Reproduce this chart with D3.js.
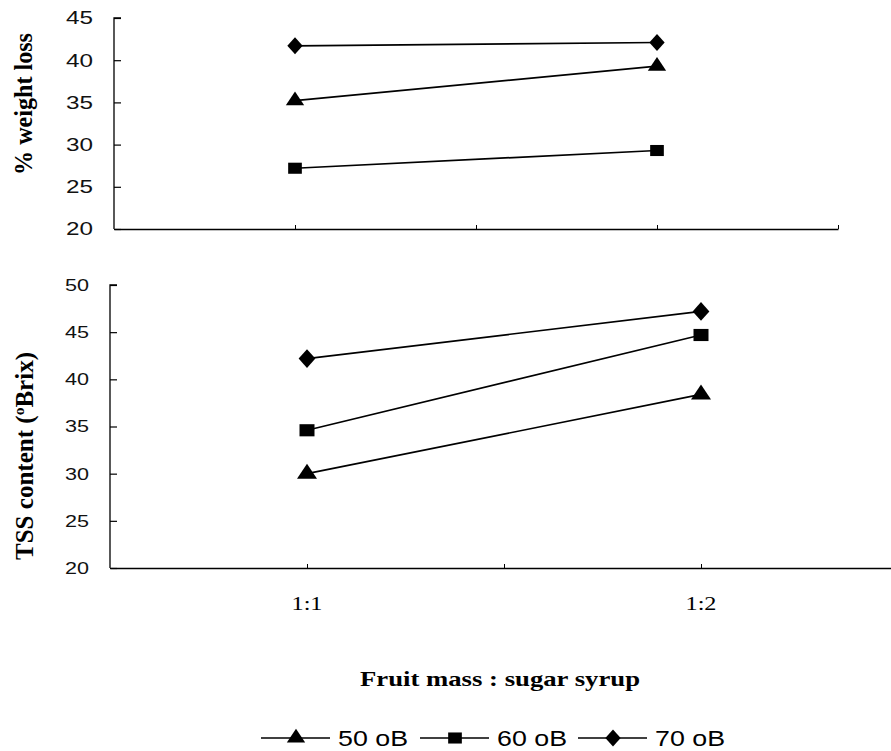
<!DOCTYPE html>
<html>
<head>
<meta charset="utf-8">
<script src="https://cdn.jsdelivr.net/npm/d3@7"></script>
<style>
  body { margin: 0; background: #fff; }
  .tick-label { font-family: "Liberation Sans", Arial, sans-serif; fill: #111; }
  .cat-label { font-family: "Liberation Serif", "Times New Roman", serif; font-size: 19px; }
  .title { font-family: "Liberation Serif", "Times New Roman", serif; font-weight: bold; }
  .legend-text { font-family: "Liberation Sans", Arial, sans-serif; font-size: 22px; }
</style>
</head>
<body>
<svg id="chart" width="891" height="751"></svg>
<script>
// categories sit on every other slot of the x axis
const categories = ['1:1', '1:2'];
const categorySlots = [1, 3];
const seriesNames = ['50 oB', '60 oB', '70 oB'];
const seriesSymbols = ['triangle', 'square', 'diamond'];

const weightLoss50 = [35.2, 39.3];
const weightLoss60 = [27.2, 29.3];
const weightLoss70 = [41.7, 42.1];

const tss50 = [30.0, 38.4];
const tss60 = [34.6, 44.7];
const tss70 = [42.2, 47.2];

const weightTicks = [20, 25, 30, 35, 40, 45];
const tssTicks = [20, 25, 30, 35, 40, 45, 50];

const svg = d3.select('#chart');

const symbolFor = {
  triangle: d3.symbolTriangle,
  square: d3.symbolSquare,
  diamond: d3.symbolDiamond,
};

function drawSymbol(sel, type, big) {
  const k = big ? 1.2 : 1;
  const sizes = { triangle: 120, square: 170, diamond: 130 };
  const path = d3.symbol().type(symbolFor[type]).size(sizes[type] * k)();
  const squash = { triangle: 'scale(1.1, 0.95)', square: 'scale(1.05, 0.85)', diamond: 'scale(1.25, 0.8)' };
  sel.append('path')
    .attr('d', path)
    .attr('fill', '#000')
    .attr('transform', squash[type]);
}

function drawPanel(opts) {
  const { left, right, top, bottom, ticks, series, labelSize, labelWidth, big } = opts;

  const x = d3.scaleLinear().domain([0, 4]).range([left, right]);
  const y = d3.scaleLinear().domain([d3.min(ticks), d3.max(ticks)]).range([bottom, top]);

  // y axis (ticks point inward)
  const yAxis = svg.append('g')
    .attr('transform', `translate(${left},0)`)
    .call(d3.axisRight(y).tickValues(ticks).tickSize(7).tickFormat(''));
  yAxis.select('.domain').attr('stroke', '#000').attr('stroke-width', 1.3).attr('d', `M7,${top}H0V${bottom}`);
  yAxis.selectAll('.tick line').attr('stroke', '#000').attr('stroke-width', 1.2);

  svg.append('g')
    .selectAll('text')
    .data(ticks)
    .enter().append('text')
      .attr('class', 'tick-label')
      .attr('font-size', labelSize)
      .attr('x', left - 21)
      .attr('y', d => y(d) + labelSize * 0.36)
      .attr('text-anchor', 'end')
      .attr('textLength', labelWidth)
      .attr('lengthAdjust', 'spacingAndGlyphs')
      .text(d => d);

  // x axis
  const xAxis = svg.append('g')
    .attr('transform', `translate(0,${bottom})`)
    .call(d3.axisTop(x).tickValues([1, 2, 3, 4]).tickSize(4).tickFormat('').tickSizeOuter(0));
  xAxis.select('.domain').attr('stroke', '#000').attr('stroke-width', 1.5);
  xAxis.selectAll('.tick line').attr('stroke', '#000').attr('stroke-width', 1);

  // lines + markers
  series.forEach((values, i) => {
    const pts = values.map((v, j) => [x(categorySlots[j]), y(v)]);
    svg.append('path')
      .attr('d', d3.line()(pts))
      .attr('fill', 'none')
      .attr('stroke', '#000')
      .attr('stroke-width', 1.7);
    pts.forEach(p => {
      const g = svg.append('g').attr('transform', `translate(${p[0]},${p[1]})`);
      drawSymbol(g, seriesSymbols[i], big);
    });
  });

  return x;
}

drawPanel({
  left: 114, right: 838, top: 18, bottom: 229,
  ticks: weightTicks,
  series: [weightLoss50, weightLoss60, weightLoss70],
  labelSize: 18, labelWidth: 27,
});

const xBottom = drawPanel({
  left: 110, right: 898, top: 285, bottom: 568,
  ticks: tssTicks,
  series: [tss50, tss60, tss70],
  labelSize: 16.5, labelWidth: 24, big: true,
});

// y titles, rotated (glyphs look stretched across, like the scan)
svg.append('text')
  .attr('class', 'title')
  .attr('font-size', 21)
  .attr('transform', 'translate(32,104) scale(1.15,1) rotate(-90)')
  .attr('text-anchor', 'middle')
  .attr('textLength', 142)
  .attr('lengthAdjust', 'spacingAndGlyphs')
  .text('%  weight loss');

const tssTitle = svg.append('text')
  .attr('class', 'title')
  .attr('font-size', 21)
  .attr('transform', 'translate(33,456) scale(1.15,1) rotate(-90)')
  .attr('text-anchor', 'middle')
  .attr('textLength', 208)
  .attr('lengthAdjust', 'spacingAndGlyphs');
tssTitle.append('tspan').text('TSS content (');
tssTitle.append('tspan').attr('font-size', 13).attr('dy', -8).text('o');
tssTitle.append('tspan').attr('dy', 8).text('Brix)');

// category labels
svg.selectAll('.cat-label')
  .data(categories)
  .enter().append('text')
    .attr('class', 'cat-label')
    .attr('x', (d, i) => xBottom(categorySlots[i]))
    .attr('y', 610)
    .attr('text-anchor', 'middle')
    .attr('textLength', 31)
    .attr('lengthAdjust', 'spacingAndGlyphs')
    .text(d => d);

// x title
svg.append('text')
  .attr('class', 'title')
  .attr('font-size', 22)
  .attr('x', 500)
  .attr('y', 686)
  .attr('text-anchor', 'middle')
  .attr('textLength', 280)
  .attr('lengthAdjust', 'spacingAndGlyphs')
  .text('Fruit mass : sugar syrup');

// legend
const legendX = [261, 420, 578];
seriesNames.forEach((name, i) => {
  const g = svg.append('g').attr('transform', `translate(${legendX[i]},738)`);
  g.append('line')
    .attr('x1', 0).attr('x2', 69)
    .attr('y1', 0).attr('y2', 0)
    .attr('stroke', '#000').attr('stroke-width', 1.7);
  const m = g.append('g').attr('transform', 'translate(35,0)');
  drawSymbol(m, seriesSymbols[i], false);
  g.append('text')
    .attr('class', 'legend-text')
    .attr('x', 77)
    .attr('y', 8)
    .attr('textLength', 70)
    .attr('lengthAdjust', 'spacingAndGlyphs')
    .text(name);
});
</script>
</body>
</html>
